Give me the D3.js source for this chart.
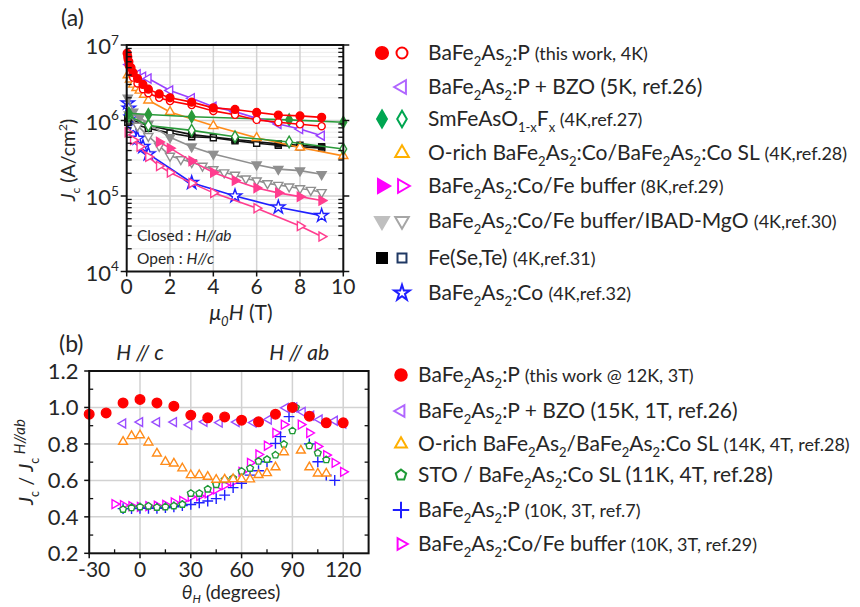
<!DOCTYPE html>
<html><head><meta charset="utf-8">
<script src="https://cdn.jsdelivr.net/npm/d3@7"></script>
<style>
body{margin:0;background:#fff}
svg{display:block}
text{font-family:Lato,"Open Sans","DejaVu Sans",sans-serif;fill:#262626}
</style>
</head><body>
<svg id="c" width="860" height="607"></svg>
<script>
// ---------------- Panel (a): Jc vs mu0H ----------------
const fieldTicks = [0, 2, 4, 6, 8, 10];
const jcDecades = [4, 5, 6, 7];

const redAbH  = [0.02,0.05,0.1,0.2,0.3,0.5,0.75,1,1.5,2,3,4,5,6,7,8,9];
const redAbJc = [7.8e6,7.0e6,6.0e6,5.0e6,4.3e6,3.6e6,3.0e6,2.6e6,2.25e6,2.0e6,1.75e6,1.47e6,1.4e6,1.28e6,1.18e6,1.15e6,1.1e6];
const redCH   = [0.05,0.1,0.2,0.3,0.5,0.75,1,1.5,2,3,4,5,6,7,8,9];
const redCJc  = [6.5e6,5.3e6,4.3e6,3.7e6,3.1e6,2.6e6,2.3e6,2.0e6,1.81e6,1.6e6,1.34e6,1.19e6,1.02e6,9.5e5,8.9e5,8.4e5];
const bzoH    = [0.1,0.5,0.75,1,2,3,4,5,6,7,8,9];
const bzoJc   = [5.5e6,4.1e6,3.8e6,3.6e6,2.5e6,1.97e6,1.52e6,1.31e6,1.07e6,9.0e5,7.7e5,6.3e5];
const smAbH   = [0.1,1,3,7.5,10];
const smAbJc  = [1.25e6,1.2e6,1.12e6,1.02e6,9.5e5];
const smCH    = [0.1,1,3,5,7.5,10];
const smCJc   = [1.15e6,8.6e5,7.4e5,6.1e5,5.2e5,4.2e5];
const oRichH  = [0.05,0.15,0.3,0.45,0.6,0.8,1,2,4,6,8,10];
const oRichJc = [4.0e6,3.5e6,3.0e6,2.7e6,2.5e6,2.2e6,1.85e6,1.3e6,8.5e5,5.9e5,4.4e5,3.4e5];
const coFeAbH = [1.5,2,3,4,5,6,7,8,9];
const coFeAbJc= [5.2e5,4.3e5,2.9e5,2.05e5,1.6e5,1.28e5,1.1e5,9.8e4,8.7e4];
const coFeCH  = [0.05,0.3,0.6,1,1.5,2,3,4,6,8,9];
const coFeCJc = [7.0e5,5.5e5,4.5e5,3.3e5,2.5e5,2.05e5,1.48e5,1.1e5,6.9e4,4.0e4,2.9e4];
const ibadAbH = [0.05,0.3,0.6,1,2,3,4,6,7,8,9];
const ibadAbJc= [2.0e6,1.3e6,1.1e6,9.0e5,6.0e5,4.5e5,3.6e5,2.6e5,2.27e5,2.17e5,1.94e5];
const ibadCH  = [0.1,0.5,1,1.5,2,2.5,3,3.5,4,4.5,5,5.5,6,6.5,7,7.5,8,8.5,9];
const ibadCJc = [1.2e6,8.5e5,6.2e5,4.6e5,3.4e5,3.06e5,2.8e5,2.5e5,2.25e5,2.05e5,1.9e5,1.7e5,1.6e5,1.47e5,1.4e5,1.33e5,1.26e5,1.2e5,1.12e5];
const fstAbH  = [0.05,1,3,5,7,8,9];
const fstAbJc = [1.05e6,8.6e5,6.5e5,5.6e5,4.9e5,4.7e5,4.5e5];
const fstCH   = [0.05,1,2,3,4,5,6,7,8,9];
const fstCJc  = [9.5e5,7.9e5,6.8e5,6.1e5,5.9e5,5.4e5,5.0e5,4.7e5,4.5e5,4.3e5];
const coH     = [0.05,0.1,0.2,0.3,0.5,0.75,1,3,5,7,9];
const coJc    = [1.7e6,1.45e6,1.1e6,8.0e5,5.8e5,4.5e5,3.6e5,1.5e5,1.0e5,7.1e4,5.5e4];

// ---------------- Panel (b): Jc/Jc(H//ab) vs theta ----------------
const thetaTicks = [-30, 0, 30, 60, 90, 120];
const ratioTicks = [0.2, 0.4, 0.6, 0.8, 1.0, 1.2];

const thRed  = [-30,-20,-10,0,10,20,30,40,50,60,70,80,90,100,110,120];
const vRed   = [0.963,0.97,1.025,1.044,1.025,1.007,0.958,0.943,0.948,0.93,0.921,0.963,1.0,0.952,0.916,0.916];
const thBzo  = [-10,0,10,20,29,38,47,57,67,76,86,91,96,101,106,115,120];
const vBzo   = [0.912,0.92,0.92,0.92,0.905,0.921,0.917,0.92,0.917,0.934,0.998,1.0,0.976,0.955,0.934,0.927,0.912];
const thORich= [-10,-5,0,5,10,15,20,25,30,35,40,45,50,55,60,65,70,75,80,85,95,100,105,110];
const vORich = [0.812,0.843,0.848,0.808,0.748,0.702,0.693,0.666,0.629,0.629,0.62,0.604,0.605,0.607,0.607,0.606,0.63,0.64,0.672,0.755,0.764,0.672,0.638,0.638];
const thSto  = [-10,-5,0,5,10,15,20,25,30,35,40,45,50,55,60,65,70,75,80,85,90,92,100,105,110];
const vSto   = [0.441,0.45,0.455,0.459,0.452,0.455,0.46,0.468,0.529,0.529,0.552,0.577,0.604,0.612,0.65,0.666,0.705,0.715,0.739,0.798,0.872,1.0,0.79,0.75,0.713];
const thP7   = [-10,-5,0,5,10,15,20,25,30,35,40,45,50,55,60,65,70,75,80,83,88,91,100,105,110,115];
const vP7    = [0.445,0.445,0.447,0.447,0.447,0.45,0.455,0.462,0.468,0.477,0.487,0.5,0.519,0.56,0.584,0.629,0.653,0.702,0.803,0.84,0.95,1.0,0.8,0.702,0.629,0.6];
const thCoFe = [-15,-10,-5,0,5,10,15,20,25,30,35,40,45,50,55,60,65,70,75,80,85,95,100,105,110,115,120];
const vCoFe  = [0.47,0.464,0.459,0.455,0.459,0.461,0.466,0.479,0.488,0.51,0.514,0.529,0.551,0.574,0.592,0.647,0.696,0.742,0.79,0.861,0.906,0.906,0.86,0.786,0.739,0.696,0.647];

// ---------------- helpers ----------------
const svg = d3.select('#c');
const zip = (a, b) => a.map((v, i) => [v, b[i]]);

const symPentagon = {draw(ctx, size){
  const r = Math.sqrt(size / (2.5 * Math.sin(2 * Math.PI / 5)));
  for (let i = 0; i < 5; i++) {
    const a = -Math.PI / 2 + i * 2 * Math.PI / 5;
    const x = r * Math.cos(a), y = r * Math.sin(a);
    if (i) ctx.lineTo(x, y); else ctx.moveTo(x, y);
  }
  ctx.closePath();
}};
const SYM = {
  circle: [d3.symbolCircle, 0], diamond: [d3.symbolDiamond, 0], up: [d3.symbolTriangle, 0],
  down: [d3.symbolTriangle, 180], left: [d3.symbolTriangle, -90], right: [d3.symbolTriangle, 90],
  square: [d3.symbolSquare, 0], star: [d3.symbolStar, 0], plus: [d3.symbolPlus, 0], pent: [symPentagon, 0]
};
function marker(g, x, y, shape, size, color, filled, sw) {
  const [type, rot] = SYM[shape];
  const p = g.append('path').attr('d', d3.symbol(type, size)())
    .attr('transform', `translate(${x},${y}) rotate(${rot})`)
    .attr('stroke', color).attr('stroke-width', sw || 1.5);
  if (shape === 'plus') p.attr('fill', 'none');
  else p.attr('fill', filled ? color : '#fff');
  return p;
}
function rich(g, x, y, parts, size, anchor, extra, subK) {
  const t = g.append('text').attr('x', x).attr('y', y).attr('font-size', size)
    .attr('text-anchor', anchor || 'start');
  if (extra) extra(t);
  let shift = 0;
  parts.forEach(p => {
    const fs = p.fs || ((p.sub || p.sup) ? size * 0.62 : size);
    const target = p.sub ? size * (subK || 0.28) : p.sup ? -size * 0.42 : 0;
    const ts = t.append('tspan').text(p.t).attr('font-size', fs).attr('dy', target - shift);
    shift = target;
    if (p.it) ts.attr('font-style', 'italic');
  });
  return t;
}

// ================= PANEL (a) =================
const xA = d3.scaleLinear().domain([0, 10]).range([126.7, 343.3]);
const yA = d3.scaleLog().domain([1e4, 1e7]).range([271.5, 45]);
const gA = svg.append('g');
const minorA = [];
jcDecades.slice(0, 3).forEach(d => { for (let m = 2; m <= 9; m++) minorA.push(m * Math.pow(10, d)); });

// grid
gA.selectAll('.gmn').data(minorA).join('line')
  .attr('x1', xA(0)).attr('x2', xA(10)).attr('y1', d => yA(d)).attr('y2', d => yA(d))
  .attr('stroke', '#ececec').attr('stroke-width', 1);
gA.selectAll('.gmj').data([1e5, 1e6]).join('line')
  .attr('x1', xA(0)).attr('x2', xA(10)).attr('y1', d => yA(d)).attr('y2', d => yA(d))
  .attr('stroke', '#cfcfcf').attr('stroke-width', 1.5);
gA.selectAll('.gv').data([2, 4, 6, 8]).join('line')
  .attr('x1', d => xA(d)).attr('x2', d => xA(d)).attr('y1', yA(1e7)).attr('y2', yA(1e4))
  .attr('stroke', '#d2d2d2').attr('stroke-width', 1.5);

// series
const seriesA = [
  {h: coH, j: coJc, shape: 'star', color: '#1f1fff', fill: false, size: 55},
  {h: fstCH, j: fstCJc, shape: 'square', color: '#111', fill: false, size: 36},
  {h: fstAbH, j: fstAbJc, shape: 'square', color: '#111', fill: true, size: 36},
  {h: ibadCH, j: ibadCJc, shape: 'down', color: '#8f8f8f', fill: false, size: 36},
  {h: ibadAbH, j: ibadAbJc, shape: 'down', color: '#8f8f8f', fill: true, size: 36},
  {h: coFeCH, j: coFeCJc, shape: 'right', color: '#ff3d8f', fill: false, size: 36},
  {h: coFeAbH, j: coFeAbJc, shape: 'right', color: '#ff3d8f', fill: true, size: 36},
  {h: oRichH, j: oRichJc, shape: 'up', color: '#ff8c1a', fill: false, size: 36},
  {h: smCH, j: smCJc, shape: 'diamond', color: '#2a9a3a', fill: false, size: 40},
  {h: smAbH, j: smAbJc, shape: 'diamond', color: '#2a9a3a', fill: true, size: 40},
  {h: bzoH, j: bzoJc, shape: 'left', color: '#9940ff', fill: false, size: 36},
  {h: redCH, j: redCJc, shape: 'circle', color: '#ff0000', fill: false, size: 40},
  {h: redAbH, j: redAbJc, shape: 'circle', color: '#ff0000', fill: true, size: 48}
];
const lineA = d3.line().x(d => xA(d[0])).y(d => yA(d[1]));
seriesA.forEach(s => {
  const pts = zip(s.h, s.j);
  gA.append('path').attr('d', lineA(pts)).attr('fill', 'none')
    .attr('stroke', s.color).attr('stroke-width', 1.6);
  pts.forEach(p => marker(gA, xA(p[0]), yA(p[1]), s.shape, s.size, s.color, s.fill, 1.4));
});

// frame + ticks
gA.append('rect').attr('x', xA(0)).attr('y', yA(1e7)).attr('width', xA(10) - xA(0))
  .attr('height', yA(1e4) - yA(1e7)).attr('fill', 'none').attr('stroke', '#111').attr('stroke-width', 2);
const majA = jcDecades.map(d => Math.pow(10, d));
const minorAll = minorA.concat([2e6,3e6,4e6,5e6,6e6,7e6,8e6,9e6].filter(v => !minorA.includes(v)));
[[xA(0), -1], [xA(10), 1]].forEach(([x0, dir]) => {
  gA.selectAll(null).data(majA).join('line')
    .attr('x1', x0).attr('x2', x0 + dir * 6).attr('y1', d => yA(d)).attr('y2', d => yA(d))
    .attr('stroke', '#111').attr('stroke-width', 1.5);
  gA.selectAll(null).data(minorAll).join('line')
    .attr('x1', x0).attr('x2', x0 - dir * 5).attr('y1', d => yA(d)).attr('y2', d => yA(d))
    .attr('stroke', '#111').attr('stroke-width', 1.3);
});
gA.selectAll(null).data(fieldTicks).join('line')
  .attr('x1', d => xA(d)).attr('x2', d => xA(d)).attr('y1', yA(1e4)).attr('y2', yA(1e4) + 5)
  .attr('stroke', '#111').attr('stroke-width', 1.5);
// tick labels
fieldTicks.forEach(v => gA.append('text').attr('x', xA(v)).attr('y', 294)
  .attr('text-anchor', 'middle').attr('font-size', 21).text(v));
jcDecades.forEach(d => rich(gA, 119, yA(Math.pow(10, d)) + 9,
  [{t: '10'}, {t: String(d), sup: true}], 22, 'end'));

// axis titles
rich(gA, 241, 320, [{t: 'μ', it: true}, {t: '0', sub: true, it: true}, {t: 'H', it: true}, {t: ' (T)'}], 21, 'middle');
rich(gA, 0, 0, [{t: 'J', it: true}, {t: 'c', sub: true}, {t: ' (A/cm'}, {t: '2', sup: true}, {t: ')'}], 19.5, 'middle',
  t => t.attr('transform', 'translate(75,160) rotate(-90)'));
rich(gA, 137, 241, [{t: 'Closed : '}, {t: 'H//ab', it: true}], 15.5, 'start');
rich(gA, 137, 264, [{t: 'Open : '}, {t: 'H//c', it: true}], 15.5, 'start');
gA.append('text').attr('x', 61).attr('y', 26).attr('font-size', 23).text('(a)');

// legend (a)
const PS = 18;
const legA = [
  {y: 53, c: {shape: 'circle', color: '#ff0000'}, o: {shape: 'circle', color: '#ff0000'},
   parts: [{t: 'BaFe'}, {t: '2', sub: true}, {t: 'As'}, {t: '2', sub: true}, {t: ':P '}, {t: '(this work, 4K)', fs: PS}]},
  {y: 87, o: {shape: 'left', color: '#b066ff'},
   parts: [{t: 'BaFe'}, {t: '2', sub: true}, {t: 'As'}, {t: '2', sub: true}, {t: ':P + BZO (5K, ref.26)'}]},
  {y: 119, c: {shape: 'diamond', color: '#00a651'}, o: {shape: 'diamond', color: '#00a651'},
   parts: [{t: 'SmFeAsO'}, {t: '1-x', sub: true}, {t: 'F'}, {t: 'x', sub: true}, {t: ' (4K,ref.27)', fs: PS}]},
  {y: 153, o: {shape: 'up', color: '#ffb000'},
   parts: [{t: 'O-rich BaFe'}, {t: '2', sub: true}, {t: 'As'}, {t: '2', sub: true}, {t: ':Co/BaFe'}, {t: '2', sub: true},
           {t: 'As'}, {t: '2', sub: true}, {t: ':Co SL '}, {t: '(4K,ref.28)', fs: PS}]},
  {y: 186, c: {shape: 'right', color: '#ff00ff'}, o: {shape: 'right', color: '#ff00ff'},
   parts: [{t: 'BaFe'}, {t: '2', sub: true}, {t: 'As'}, {t: '2', sub: true}, {t: ':Co/Fe buffer '}, {t: '(8K,ref.29)', fs: PS}]},
  {y: 221, c: {shape: 'down', color: '#bfbfbf'}, o: {shape: 'down', color: '#a6a6a6'},
   parts: [{t: 'BaFe'}, {t: '2', sub: true}, {t: 'As'}, {t: '2', sub: true}, {t: ':Co/Fe buffer/IBAD-MgO '}, {t: '(4K,ref.30)', fs: PS}]},
  {y: 258, c: {shape: 'square', color: '#000'}, o: {shape: 'square', color: '#1f3864'},
   parts: [{t: 'Fe(Se,Te) '}, {t: '(4K,ref.31)', fs: PS}]},
  {y: 293, o: {shape: 'star', color: '#1f1fff'},
   parts: [{t: 'BaFe'}, {t: '2', sub: true}, {t: 'As'}, {t: '2', sub: true}, {t: ':Co '}, {t: '(4K,ref.32)', fs: PS}]}
];
legA.forEach(r => {
  const sz = r.c && r.c.shape === 'circle' ? 125 : r.c && r.c.shape === 'square' ? 110 : 95;
  if (r.c) marker(svg, 382, r.y, r.c.shape, sz, r.c.color, true, 1.5);
  if (r.o) marker(svg, 402, r.y, r.o.shape, r.o.shape === 'star' ? 75 : r.o.shape === 'circle' ? 95 : 80, r.o.color, false, 2);
  rich(svg, 428, r.y + 7, r.parts, 21, 'start');
});

// ================= PANEL (b) =================
const xB = d3.scaleLinear().domain([-30, 135]).range([89.2, 368.6]);
const yB = d3.scaleLinear().domain([0.2, 1.2]).range([553.3, 371]);
const gB = svg.append('g');
gB.selectAll(null).data(thetaTicks.slice(1)).join('line')
  .attr('x1', d => xB(d)).attr('x2', d => xB(d)).attr('y1', yB(1.2)).attr('y2', yB(0.2))
  .attr('stroke', '#d2d2d2').attr('stroke-width', 1.5);
gB.selectAll(null).data(ratioTicks.slice(1, 5)).join('line')
  .attr('x1', xB(-30)).attr('x2', xB(135)).attr('y1', d => yB(d)).attr('y2', d => yB(d))
  .attr('stroke', '#d2d2d2').attr('stroke-width', 1.5);

const seriesB = [
  {th: thCoFe, v: vCoFe, shape: 'right', color: '#ff00ff', size: 34, fill: false},
  {th: thP7, v: vP7, shape: 'plus', color: '#1f1fff', size: 40, fill: false},
  {th: thSto, v: vSto, shape: 'pent', color: '#1e9a36', size: 30, fill: false},
  {th: thORich, v: vORich, shape: 'up', color: '#ff8c1a', size: 34, fill: false},
  {th: thBzo, v: vBzo, shape: 'left', color: '#9a4dff', size: 34, fill: false},
  {th: thRed, v: vRed, shape: 'circle', color: '#ff0000', size: 72, fill: true}
];
seriesB.forEach(s => zip(s.th, s.v).forEach(p =>
  marker(gB, xB(p[0]), yB(p[1]), s.shape, s.size, s.color, s.fill, 1.4)));

gB.append('rect').attr('x', xB(-30)).attr('y', yB(1.2)).attr('width', xB(135) - xB(-30))
  .attr('height', yB(0.2) - yB(1.2)).attr('fill', 'none').attr('stroke', '#111').attr('stroke-width', 2);
gB.selectAll(null).data(ratioTicks).join('line')
  .attr('x1', xB(-30)).attr('x2', xB(-30) - 5).attr('y1', d => yB(d)).attr('y2', d => yB(d))
  .attr('stroke', '#111').attr('stroke-width', 1.5);
gB.selectAll(null).data([0.3, 0.5, 0.7, 0.9, 1.1]).join('line')
  .attr('x1', xB(-30)).attr('x2', xB(-30) + 4).attr('y1', d => yB(d)).attr('y2', d => yB(d))
  .attr('stroke', '#111').attr('stroke-width', 1.3);
gB.selectAll(null).data([0.3, 0.5, 0.7, 0.9, 1.1]).join('line')
  .attr('x1', xB(135)).attr('x2', xB(135) - 4).attr('y1', d => yB(d)).attr('y2', d => yB(d))
  .attr('stroke', '#111').attr('stroke-width', 1.3);
gB.selectAll(null).data(thetaTicks).join('line')
  .attr('x1', d => xB(d)).attr('x2', d => xB(d)).attr('y1', yB(0.2)).attr('y2', yB(0.2) + 5)
  .attr('stroke', '#111').attr('stroke-width', 1.5);
gB.selectAll(null).data([-15, 15, 45, 75, 105]).join('line')
  .attr('x1', d => xB(d)).attr('x2', d => xB(d)).attr('y1', yB(0.2)).attr('y2', yB(0.2) - 4)
  .attr('stroke', '#111').attr('stroke-width', 1.3);

thetaTicks.forEach(v => gB.append('text').attr('x', v === -30 ? xB(v) + 5 : xB(v)).attr('y', 576.5)
  .attr('text-anchor', 'middle').attr('font-size', 21).text(v));
ratioTicks.forEach(v => gB.append('text').attr('x', 78.5).attr('y', yB(v) + 8)
  .attr('text-anchor', 'end').attr('font-size', 22).text(v.toFixed(1)));

rich(gB, 231, 599, [{t: 'θ', it: true}, {t: 'H', sub: true, it: true}, {t: ' (degrees)'}], 19, 'middle', null, 0.2);
rich(gB, 0, 0, [{t: 'J', it: true}, {t: 'c', sub: true}, {t: ' / '}, {t: 'J', it: true}, {t: 'c', sub: true},
  {t: ' H//ab', sup: true, it: true, fs: 15}], 20, 'middle', t => t.attr('transform', 'translate(33,462) rotate(-90)'));
rich(gB, xB(0), 360, [{t: 'H // c', it: true}], 21, 'middle');
rich(gB, xB(94), 360, [{t: 'H // ab', it: true}], 21, 'middle');
gB.append('text').attr('x', 59).attr('y', 352).attr('font-size', 23).text('(b)');

// legend (b)
const legB = [
  {y: 375, m: {shape: 'circle', color: '#ff0000', fill: true, size: 105},
   parts: [{t: 'BaFe'}, {t: '2', sub: true}, {t: 'As'}, {t: '2', sub: true}, {t: ':P '}, {t: '(this work @ 12K, 3T)', fs: PS}]},
  {y: 411, m: {shape: 'left', color: '#b066ff', size: 60},
   parts: [{t: 'BaFe'}, {t: '2', sub: true}, {t: 'As'}, {t: '2', sub: true}, {t: ':P + BZO (15K, 1T, ref.26)'}]},
  {y: 444, m: {shape: 'up', color: '#ffb000', size: 60},
   parts: [{t: 'O-rich BaFe'}, {t: '2', sub: true}, {t: 'As'}, {t: '2', sub: true}, {t: '/BaFe'}, {t: '2', sub: true},
           {t: 'As'}, {t: '2', sub: true}, {t: ':Co SL '}, {t: '(14K, 4T, ref.28)', fs: PS}]},
  {y: 475, m: {shape: 'pent', color: '#1e9a36', size: 70},
   parts: [{t: 'STO / BaFe'}, {t: '2', sub: true}, {t: 'As'}, {t: '2', sub: true}, {t: ':Co SL (11K, 4T, ref.28)'}]},
  {y: 510, m: {shape: 'plus', color: '#1f1fff', size: 90},
   parts: [{t: 'BaFe'}, {t: '2', sub: true}, {t: 'As'}, {t: '2', sub: true}, {t: ':P '}, {t: '(10K, 3T, ref.7)', fs: PS}]},
  {y: 544, m: {shape: 'right', color: '#ff00ff', size: 60},
   parts: [{t: 'BaFe'}, {t: '2', sub: true}, {t: 'As'}, {t: '2', sub: true}, {t: ':Co/Fe buffer '}, {t: '(10K, 3T, ref.29)', fs: PS}]}
];
legB.forEach(r => {
  marker(svg, 401, r.y, r.m.shape, r.m.size, r.m.color, !!r.m.fill, 2);
  rich(svg, 418, r.y + 7, r.parts, 21, 'start');
});
</script>
</body></html>
